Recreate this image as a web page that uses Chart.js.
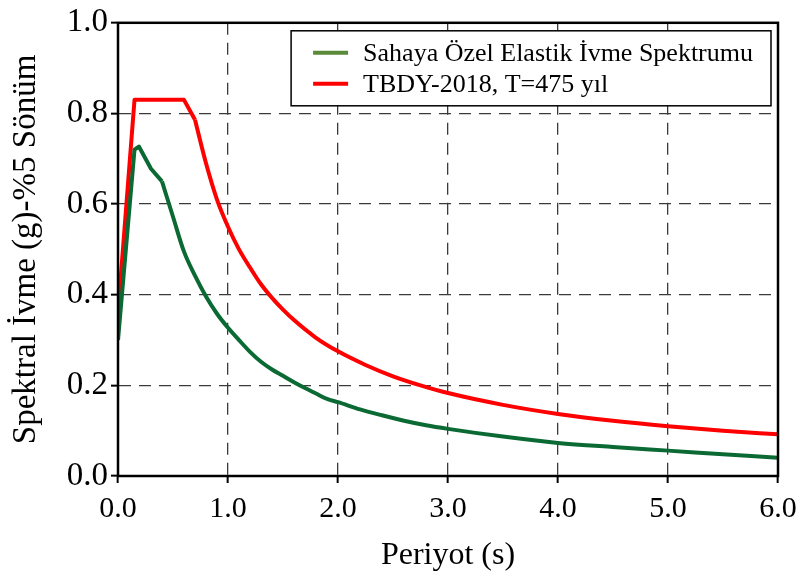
<!DOCTYPE html>
<html>
<head>
<meta charset="utf-8">
<script src="https://cdn.jsdelivr.net/npm/chart.js@4/dist/chart.umd.min.js"></script>
<style>
  body { margin: 0; background: #fff; }
  #wrap { width: 806px; height: 584px; }
</style>
</head>
<body>
<div id="wrap"><canvas id="spectrum" width="806" height="584"></canvas></div>
<script>
(function () {
    "use strict";

    // Period (s) and spectral acceleration (g)
    const siteT  = [0, 0.15, 0.19, 0.3, 0.4, 0.5, 0.6, 0.7, 0.8, 0.9, 1.0, 1.1, 1.2, 1.3, 1.4, 1.5, 1.6, 1.7, 1.8, 1.9,
                    2.0, 2.2, 2.4, 2.6, 2.8, 3.0, 3.5, 4.0, 4.5, 5.0, 5.5, 6.0];
    const siteSa = [0.30, 0.72, 0.727, 0.678, 0.65, 0.572, 0.495, 0.442, 0.396, 0.358, 0.327, 0.30, 0.274, 0.252, 0.235, 0.221, 0.207, 0.194, 0.182, 0.170,
                    0.163, 0.147, 0.134, 0.122, 0.112, 0.104, 0.087, 0.073, 0.064, 0.056, 0.048, 0.040];

    const codeT  = [0, 0.15, 0.6, 0.7, 0.8, 0.9, 1.0, 1.1, 1.2, 1.3, 1.4, 1.5, 1.6, 1.8, 2.0, 2.25, 2.5, 2.75, 3.0, 3.5, 4.0, 4.5, 5.0, 5.5, 6.0];
    const codeSa = [0.36, 0.83, 0.83, 0.786, 0.69, 0.61, 0.55, 0.50, 0.46, 0.423, 0.393, 0.367, 0.344, 0.305, 0.275, 0.245, 0.22, 0.20, 0.183, 0.157, 0.137, 0.122, 0.11, 0.10, 0.092];

    // index where each curve stops being a straight-segment ramp and becomes a smooth decay
    const siteBend = 4;
    const codeBend = 3;

    const seriesLabels = ["Sahaya Özel Elastik İvme Spektrumu", "TBDY-2018, T=475 yıl"];
    const xTicks = [0, 1, 2, 3, 4, 5, 6];
    const yTicks = [0, 0.2, 0.4, 0.6, 0.8, 1.0];

    const serif = "'Liberation Serif', 'Times New Roman', serif";
    const siteColor = "#0b6a34";
    const codeColor = "#ff0000";

    function toPoints(xs, ys) {
        return xs.map((x, i) => ({ x: x, y: ys[i] }));
    }

    // one curve = sharp ramp part + smooth tail part, sharing the bend point
    function curveParts(label, xs, ys, bend, color) {
        const pts = toPoints(xs, ys);
        const base = { borderColor: color, borderWidth: 4, pointRadius: 0, borderJoinStyle: "round" };
        return [
            Object.assign({ label: label, data: pts.slice(0, bend + 1), tension: 0 }, base),
            Object.assign({ label: label + " (tail)", data: pts.slice(bend), cubicInterpolationMode: "monotone" }, base)
        ];
    }

    // Legend drawn as a framed box in the upper right of the plot
    const boxedLegend = {
        id: "boxedLegend",
        afterDatasetsDraw(chart) {
            const ctx = chart.ctx;
            const area = chart.chartArea;
            const swatch = ["#5a8a3a", codeColor];
            ctx.save();
            ctx.font = "26px " + serif;
            let textW = 0;
            seriesLabels.forEach(t => { textW = Math.max(textW, ctx.measureText(t).width); });
            const boxW = 72 + textW + 18;
            const boxH = 75;
            const boxX = area.right - 7 - boxW;
            const boxY = area.top + 8;
            ctx.fillStyle = "#fff";
            ctx.fillRect(boxX, boxY, boxW, boxH);
            ctx.strokeStyle = "#000";
            ctx.lineWidth = 1.5;
            ctx.strokeRect(boxX, boxY, boxW, boxH);
            ctx.textBaseline = "middle";
            ctx.textAlign = "left";
            seriesLabels.forEach((t, i) => {
                const cy = boxY + 22 + i * 31;
                ctx.strokeStyle = swatch[i];
                ctx.lineWidth = 4;
                ctx.beginPath();
                ctx.moveTo(boxX + 22, cy);
                ctx.lineTo(boxX + 57, cy);
                ctx.stroke();
                ctx.fillStyle = "#000";
                ctx.fillText(t, boxX + 72, cy + 1);
            });
            ctx.restore();
        }
    };

    // Solid frame around the plot area
    const frame = {
        id: "frame",
        afterDraw(chart) {
            const ctx = chart.ctx;
            const a = chart.chartArea;
            ctx.save();
            ctx.strokeStyle = "#000";
            ctx.lineWidth = 2.5;
            ctx.strokeRect(a.left, a.top, a.right - a.left, a.bottom - a.top);
            ctx.restore();
        }
    };

    const gridStyle = {
        color: "#3a3a3a",
        lineWidth: 1.3,
        tickLength: 7,
        tickColor: "#000",
        tickWidth: 2
    };

    new Chart(document.getElementById("spectrum"), {
        type: "line",
        data: {
            datasets: curveParts(seriesLabels[0], siteT, siteSa, siteBend, siteColor)
                .concat(curveParts(seriesLabels[1], codeT, codeSa, codeBend, codeColor))
        },
        options: {
            animation: false,
            responsive: false,
            layout: { padding: { top: 13, right: 28, left: 0, bottom: 0 } },
            plugins: {
                legend: { display: false },
                tooltip: { enabled: false }
            },
            scales: {
                x: {
                    type: "linear",
                    min: 0,
                    max: 6,
                    afterBuildTicks: s => { s.ticks = xTicks.map(v => ({ value: v })); },
                    afterFit: s => { s.height = 108; },
                    ticks: {
                        color: "#000",
                        padding: 8,
                        font: { family: serif, size: 30 },
                        callback: v => v.toFixed(1)
                    },
                    grid: gridStyle,
                    border: { display: true, color: "#000", width: 2, dash: [12, 8] },
                    title: {
                        display: true,
                        text: "Periyot (s)",
                        color: "#000",
                        font: { family: serif, size: 32 },
                        padding: { top: 0, bottom: 9 }
                    }
                },
                y: {
                    min: 0,
                    max: 1,
                    afterBuildTicks: s => { s.ticks = yTicks.map(v => ({ value: v })); },
                    afterFit: s => { s.width = 118; },
                    ticks: {
                        color: "#000",
                        padding: 3,
                        font: { family: serif, size: 33 },
                        callback: v => v.toFixed(1)
                    },
                    grid: gridStyle,
                    border: { display: true, color: "#000", width: 2, dash: [12, 8] },
                    title: {
                        display: true,
                        text: "Spektral İvme (g)-%5 Sönüm",
                        color: "#000",
                        font: { family: serif, size: 33 },
                        padding: { top: 7, bottom: 0 }
                    }
                }
            }
        },
        plugins: [boxedLegend, frame]
    });
})();
</script>
</body>
</html>
